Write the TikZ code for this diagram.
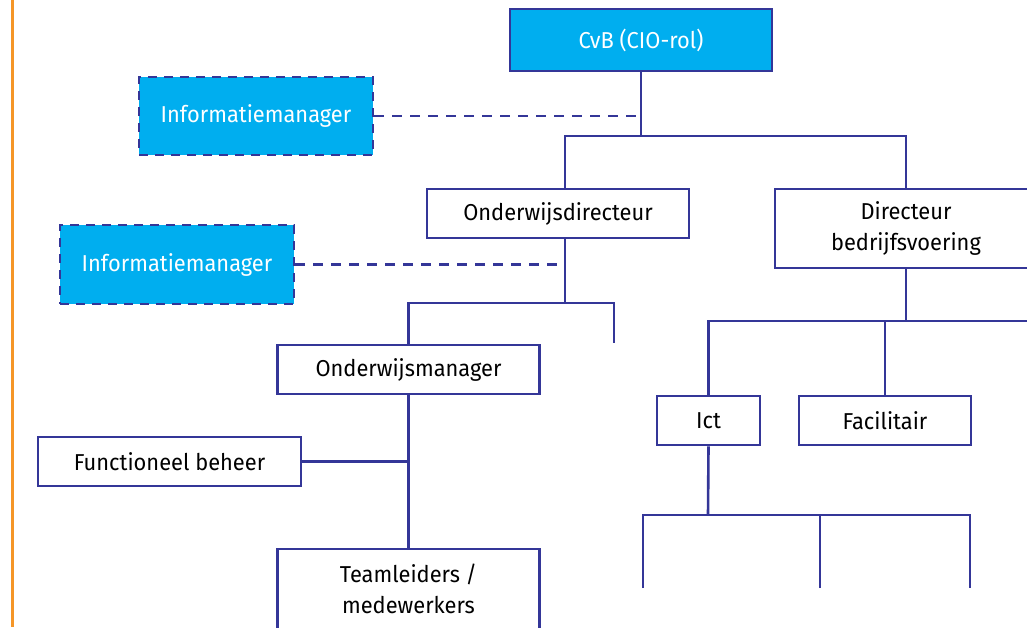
\documentclass[tikz,border=0pt]{standalone}
\usepackage{fontspec}
\setmainfont{Fira Sans}[FakeStretch=0.95]
\definecolor{boxblue}{RGB}{0,174,239}
\definecolor{linenavy}{RGB}{52,54,152}
\definecolor{barorange}{RGB}{245,150,40}
\begin{document}
\begin{tikzpicture}[x=1pt,y=-1pt,
  font=\fontsize{23}{31}\selectfont,
  line width=2.6pt,
  every node/.style={inner sep=0pt, align=center},
  unit/.style={draw=linenavy, fill=white, line width=2.8pt, text=black},
  board/.style={unit, fill=boxblue, text=white},
  advisor/.style={board, dashed, dash pattern=on 9pt off 7pt},
  link/.style={draw=linenavy, line width=2.6pt},
  dotlink/.style={link, dash pattern=on 10pt off 8pt}]
\useasboundingbox (0,0) rectangle (1027,627);
\clip (0,0) rectangle (1027,627);

% side rule
\draw[barorange, line width=3pt] (12.5,0) -- (12.5,627);

% boxes
\node[board, minimum width=262pt, minimum height=62pt] (cvb) at (641,40) {CvB (CIO-rol)};
\node[advisor, minimum width=234pt, minimum height=78pt] (im1) at (256,116) {Informatiemanager};
\node[advisor, minimum width=234pt, minimum height=79pt] (im2) at (177,264.5) {Informatiemanager};
\node[unit, minimum width=262pt, minimum height=49pt] (od) at (558,213.5) {Onderwijsdirecteur};
\node[unit, minimum width=262pt, minimum height=79pt] (db) at (906,228.5) {Directeur\\bedrijfsvoering};
\node[unit, minimum width=262pt, minimum height=49pt] (om) at (408.5,369.5) {Onderwijsmanager};
\node[unit, minimum width=263pt, minimum height=49pt] (fb) at (169.5,461.5) {Functioneel beheer};
\node[unit, minimum width=262pt, minimum height=80pt] (tl) at (408.5,589) {Teamleiders /\\medewerkers};
\node[unit, minimum width=103pt, minimum height=49pt] (ict) at (708.5,420.5) {Ict};
\node[unit, minimum width=172pt, minimum height=49pt] (fac) at (885,420.5) {Facilitair};

% junction points
\coordinate (b1l) at (565,136);
\coordinate (b1r) at (906,136);
\coordinate (b2r) at (614,303);
\coordinate (s1) at (614,343);
\coordinate (b3) at (1040,321);
\coordinate (b4) at (708,515);
\coordinate (e1) at (643,588);
\coordinate (e2) at (820,588);
\coordinate (e3) at (970,588);

% top level
\draw[link] (cvb.south) -- (cvb.south |- b1l);
\draw[link] (od.north -| b1l) -- (b1l) -- (b1r) -- (db.north -| b1r);
\draw[dotlink] (im1.east) -- (im1.east -| cvb.south);

% education branch
\draw[link] (od.south -| b1l) -- (b1l |- b2r);
\draw[link] (om.north) -- (om.north |- b2r) -- (b2r) -- (s1);
\draw[dotlink] (im2.east) -- (im2.east -| b1l);
\draw[link] (om.south) -- (tl.north);
\draw[link] (fb.east) -- (fb.east -| om.south);

% business branch
\draw[link] (db.south) -- (db.south |- b3);
\draw[link] (ict.north) -- (ict.north |- b3) -- (b3);
\draw[link] (fac.north) -- (fac.north |- b3);
\draw[link] (ict.south) -- (b4);
\draw[link] (e1) -- (e1 |- b4) -- (e3 |- b4) -- (e3);
\draw[link] (e2) -- (e2 |- b4);
\end{tikzpicture}
\end{document}
